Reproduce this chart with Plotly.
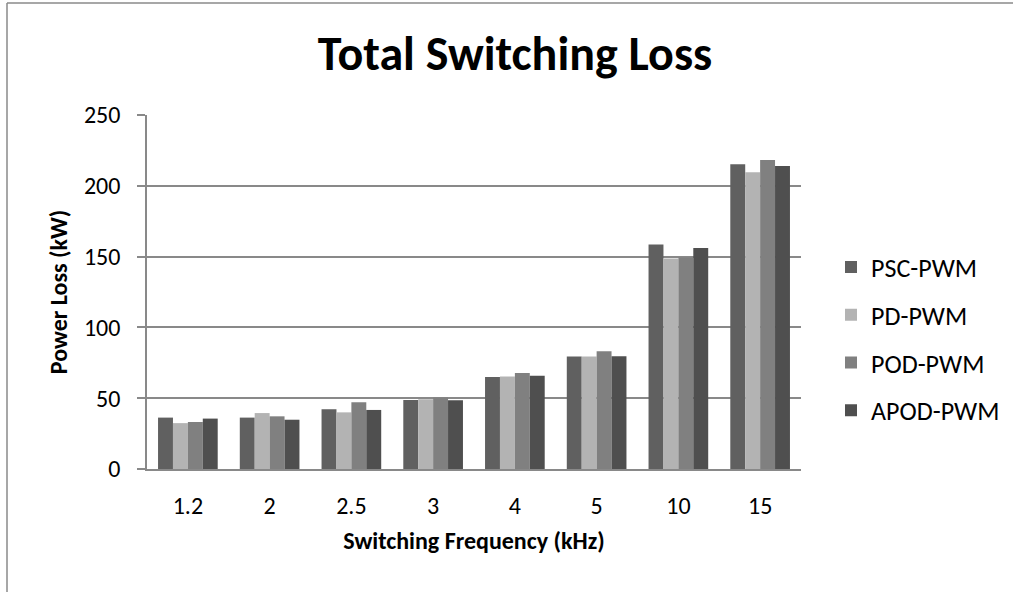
import plotly.graph_objects as go

categories = ["1.2", "2", "2.5", "3", "4", "5", "10", "15"]
psc_pwm = [36.3, 36.3, 42.2, 48.8, 65.0, 79.4, 158.6, 215.2]
pd_pwm = [32.4, 39.5, 40.0, 49.3, 65.4, 79.4, 148.6, 209.6]
pod_pwm = [33.2, 37.2, 47.2, 50.5, 67.8, 83.2, 149.3, 218.2]
apod_pwm = [35.6, 34.8, 41.7, 48.6, 65.9, 79.7, 156.0, 214.0]

series = [
    ("PSC-PWM", psc_pwm, "#606060"),
    ("PD-PWM", pd_pwm, "#b3b3b3"),
    ("POD-PWM", pod_pwm, "#808080"),
    ("APOD-PWM", apod_pwm, "#4f4f4f"),
]

FONT = "Carlito, Lato, sans-serif"

fig = go.Figure()
for name, vals, color in series:
    fig.add_trace(go.Bar(
        x=categories, y=vals, name=name, legendgroup=name,
        marker=dict(color=color, line=dict(width=0)),
    ))

W, H = 1013, 592
L, R, T, B = 147, 801, 115, 469


def px_x(p):
    return (p - L) / (R - L)


def px_y(p):
    return (B - p) / (B - T)


border = dict(color="#8a8a8a", width=1.5)

fig.update_layout(
    width=W, height=H,
    margin=dict(l=L, r=W - R, t=T, b=H - B, autoexpand=False),
    paper_bgcolor="white", plot_bgcolor="white",
    font=dict(family=FONT, color="black", size=24),
    barmode="group", bargap=0.27, bargroupgap=0,
    title=dict(text="<b>Total Switching Loss</b>", x=515 / W, xref="container",
               y=1 - 53 / H, yref="container", xanchor="center", yanchor="middle",
               font=dict(family=FONT, size=48, color="black")),
    legend=dict(x=px_x(831), xanchor="left", y=px_y(339), yanchor="middle",
                font=dict(family=FONT, size=26, color="black"),
                traceorder="grouped", tracegroupgap=11, itemsizing="constant",
                bgcolor="rgba(0,0,0,0)"),
    xaxis=dict(
        type="category", showgrid=False, showline=True, linecolor="#898989", linewidth=1.5,
        ticks="", tickfont=dict(family=FONT, size=24, color="black"),
        ticklabelstandoff=14,
        title=dict(text="<b>Switching Frequency (kHz)</b>", standoff=14,
                   font=dict(family=FONT, size=24, color="black")),
    ),
    yaxis=dict(
        range=[0, 250], dtick=50, showgrid=True, gridcolor="#898989", gridwidth=1.5,
        showline=True, linecolor="#898989", linewidth=1.5,
        ticks="outside", ticklen=8, tickcolor="#898989", tickwidth=1.5,
        tickfont=dict(family=FONT, size=24, color="black"),
        ticklabelstandoff=12, zeroline=False,
        title=dict(text="<b>Power Loss (kW)</b>", standoff=10,
                   font=dict(family=FONT, size=24, color="black")),
    ),
    shapes=[
        dict(type="line", xref="paper", yref="paper",
             x0=px_x(7), x1=px_x(1013), y0=px_y(3), y1=px_y(3), line=border),
        dict(type="line", xref="paper", yref="paper",
             x0=px_x(7), x1=px_x(7), y0=px_y(3), y1=px_y(592), line=border),
    ],
)

fig.write_html("out.html", config={"displayModeBar": False},
               post_script="document.body.style.margin='0';document.body.style.overflow='hidden';")
